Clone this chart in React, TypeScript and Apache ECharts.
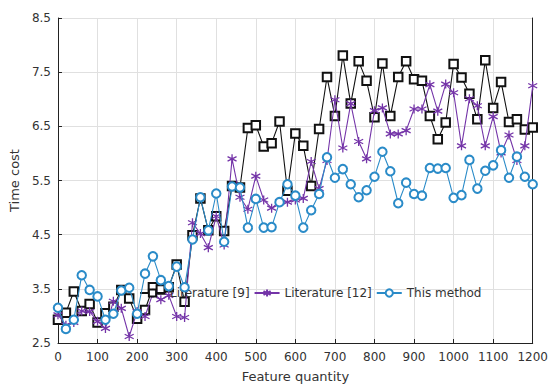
import React, { useEffect, useRef } from "react";
import * as echarts from "echarts";

const xValues: number[] = Array.from({ length: 61 }, (_, i) => i * 20);

const lit9: number[] = [
  2.93, 3.06, 3.45, 3.09, 3.22, 2.88, 3.05, 3.17, 3.48, 3.32,
  2.95, 3.11, 3.53, 3.49, 3.53, 3.95, 3.26, 4.49, 5.17, 4.58,
  4.84, 4.57, 5.40, 5.37, 6.47, 6.52, 6.13, 6.19, 6.59, 5.31,
  6.37, 6.14, 5.40, 6.45, 7.41, 6.69, 7.81, 6.92, 7.70, 7.34,
  6.67, 7.66, 6.69, 7.41, 7.70, 7.37, 7.34, 6.69, 6.26, 6.57,
  7.65, 7.40, 7.10, 6.63, 7.72, 6.84, 7.32, 6.58, 6.63, 6.44,
  6.48,
];

const lit12: number[] = [
  3.02, 2.83, 2.88, 3.09, 3.08, 2.90, 2.77, 3.27, 3.14, 2.62,
  3.08, 2.99, 3.42, 3.30, 3.38, 2.99, 2.97, 4.72, 4.52, 4.26,
  4.84, 4.31, 5.90, 5.19, 4.97, 5.58, 5.14, 4.99, 5.11, 5.10,
  5.14, 5.17, 5.85, 5.35, 5.87, 6.99, 6.10, 6.92, 6.22, 5.90,
  6.79, 6.84, 6.36, 6.36, 6.42, 6.82, 6.82, 7.27, 6.78, 7.28,
  7.12, 6.14, 7.01, 6.88, 6.14, 6.68, 6.01, 6.34, 5.87, 6.14,
  7.25,
];

const ours: number[] = [
  3.15, 2.76, 2.93, 3.75, 3.48, 3.36, 2.93, 3.04, 3.47, 3.52,
  3.04, 3.78, 4.10, 3.66, 3.55, 3.91, 3.53, 4.41, 5.19, 4.58,
  5.26, 4.37, 5.39, 5.37, 4.63, 5.16, 4.63, 4.64, 5.10, 5.43,
  5.22, 4.63, 4.95, 5.25, 5.93, 5.55, 5.71, 5.43, 5.19, 5.32,
  5.57, 6.03, 5.67, 5.08, 5.46, 5.25, 5.22, 5.73, 5.72, 5.73,
  5.18, 5.23, 5.88, 5.35, 5.68, 5.78, 6.06, 5.55, 5.94, 5.57,
  5.43,
];

const seriesNames = ["Literature [9]", "Literature [12]", "This method"];
const colors = ["#111111", "#7434a8", "#2a8bc8"];

const asterisk =
  "path://M0,-1L0,1M-0.866,-0.5L0.866,0.5M-0.866,0.5L0.866,-0.5";

export default function App() {
  const ref = useRef<HTMLDivElement>(null);
  useEffect(() => {
    if (!ref.current) return;
    const chart = echarts.init(ref.current, undefined, { renderer: "svg" });
    const font = "DejaVu Sans";
    const pair = (arr: number[]) => xValues.map((x, i) => [x, arr[i]]);
    chart.setOption({
      animation: false,
      textStyle: { fontFamily: font },
      grid: { left: 52, right: 14, top: 18, bottom: 42 },
      legend: {
        left: 134,
        top: 282,
        itemWidth: 25,
        itemHeight: 9,
        itemGap: 4,
        textStyle: { fontFamily: font, fontSize: 12, color: "#333" },
        data: seriesNames,
      },
      xAxis: {
        type: "value",
        min: 0,
        max: 1200,
        interval: 100,
        name: "Feature quantity",
        nameLocation: "middle",
        nameGap: 27,
        nameTextStyle: { fontFamily: font, fontSize: 13, color: "#333" },
        axisLine: { show: true, lineStyle: { color: "#222", width: 1 } },
        axisTick: { show: true, inside: true, length: 4, lineStyle: { color: "#222" } },
        axisLabel: { fontFamily: font, fontSize: 12, color: "#333", margin: 8, formatter: (v: number) => String(v) },
        splitLine: { show: true, lineStyle: { color: "#e0e0e0", width: 1 } },
      },
      yAxis: [
        {
          type: "value",
          min: 2.5,
          max: 8.5,
          interval: 1,
          name: "Time cost",
          nameLocation: "middle",
          nameGap: 32,
          nameTextStyle: { fontFamily: font, fontSize: 13, color: "#333" },
          axisLine: { show: true, lineStyle: { color: "#222", width: 1 } },
          axisTick: { show: true, inside: true, length: 4, lineStyle: { color: "#222" } },
          axisLabel: { fontFamily: font, fontSize: 12, color: "#333", margin: 7, formatter: (v: number) => v.toFixed(1) },
          splitLine: { show: true, lineStyle: { color: "#e0e0e0", width: 1 } },
        },
        {
          type: "value",
          position: "right",
          min: 2.5,
          max: 8.5,
          interval: 1,
          axisLine: { show: true, lineStyle: { color: "#222", width: 1 } },
          axisTick: { show: false },
          axisLabel: { show: false },
          splitLine: { show: false },
        },
      ],
      series: [
        {
          name: seriesNames[0],
          type: "line",
          data: pair(lit9),
          symbol: "emptyRect",
          symbolSize: 8.5,
          color: colors[0],
          lineStyle: { width: 1.1, color: colors[0] },
          itemStyle: { color: colors[0], borderColor: colors[0], borderWidth: 1.3 },
          z: 2,
        },
        {
          name: seriesNames[1],
          type: "line",
          data: pair(lit12),
          symbol: asterisk,
          symbolSize: 9,
          color: colors[1],
          lineStyle: { width: 1.1, color: colors[1] },
          itemStyle: { color: colors[1], borderColor: colors[1], borderWidth: 1.3 },
          z: 3,
        },
        {
          name: seriesNames[2],
          type: "line",
          data: pair(ours),
          symbol: "emptyCircle",
          symbolSize: 8.5,
          color: colors[2],
          lineStyle: { width: 1.1, color: colors[2] },
          itemStyle: { color: colors[2], borderColor: colors[2], borderWidth: 1.3 },
          z: 4,
        },
      ],
    });
    return () => chart.dispose();
  }, []);
  return <div ref={ref} style={{ width: 551, height: 388, position: "absolute", left: 0, top: 0 }} />;
}
